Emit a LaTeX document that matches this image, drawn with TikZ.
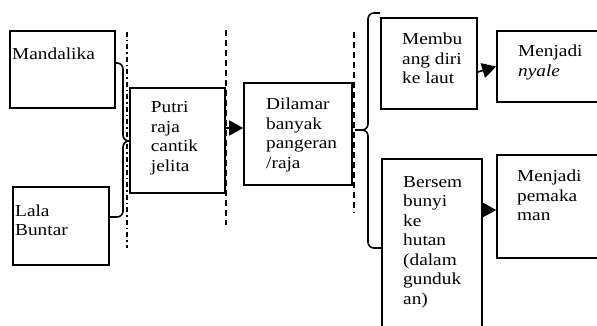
\documentclass[tikz,border=0pt]{standalone}
\usepackage{fontspec}
\setmainfont[FakeStretch=1.15]{Liberation Serif}
\usetikzlibrary{arrows.meta}
\tikzset{
  box/.style={draw, line width=1.6pt, inner sep=0pt},
  lbl/.style={anchor=base west, inner sep=0pt, font=\fontsize{16.8}{19.5}\selectfont},
  arr/.style={line width=1.6pt, -{Triangle[length=14pt,width=15pt]}},
  bracepath/.style={line width=1.6pt, rounded corners=6pt},
  sepdd/.style={line width=1.6pt, dash pattern=on 5pt off 3pt on 1.5pt off 3pt},
  sepd/.style={line width=1.6pt, dash pattern=on 6pt off 4pt},
}
\begin{document}
\begin{tikzpicture}[x=1pt, y=-1pt]
\useasboundingbox (0,0) rectangle (597,326);
\clip (0,0) rectangle (597,326);

% boxes
\node[box, minimum width=105pt, minimum height=77pt] (mand) at (62.5,69.5) {};
\node[box, minimum width=96pt, minimum height=78pt] (lala) at (61,226) {};
\node[box, minimum width=95pt, minimum height=105pt] (putri) at (177.5,140.5) {};
\node[box, minimum width=108pt, minimum height=102pt] (dilamar) at (298,134) {};
\node[box, minimum width=96pt, minimum height=91pt] (membuang) at (429,63.5) {};
\node[box, minimum width=118pt, minimum height=71pt] (nyale) at (556,66.5) {};
\node[box, minimum width=100pt, minimum height=181pt] (bersem) at (432,249.5) {};
\node[box, minimum width=118pt, minimum height=103pt] (pemak) at (556,206.5) {};

% texts
\node[lbl] (tmand) at (12,60) {\parbox[t]{90pt}{Mandalika}};
\node[lbl] (tlala) at (15,216) {\parbox[t]{90pt}{Lala\\Buntar}};
\node[lbl] (tputri) at (150.7,113) {\parbox[t]{70pt}{Putri\\raja\\cantik\\jelita}};
\node[lbl] (tdilamar) at (266,110) {\parbox[t]{85pt}{Dilamar\\banyak\\pangeran\\/raja}};
\node[lbl] (tmembuang) at (402,45) {\parbox[t]{75pt}{Membu\\ang diri\\ke laut}};
\node[lbl] (tnyale) at (518,57) {\parbox[t]{75pt}{Menjadi\\\textit{nyale}}};
\node[lbl] (tbersem) at (403,187) {\parbox[t]{75pt}{Bersem\\bunyi\\ke\\hutan\\(dalam\\gunduk\\an)}};
\node[lbl] (tpemak) at (517,182) {\parbox[t]{75pt}{Menjadi\\pemaka\\man}};

% separators
\draw[sepdd] (127,32) -- (127,248);
\draw[sepd] (226,30) -- (226,225);
\draw[sepd] (354,32) -- (354,213);

% braces
\draw[bracepath] (mand.east |- 0,63) -| (123,141) -- (128.5,141);
\draw[bracepath] (128.5,141) -| (123,217) -- (lala.east |- 0,217);
\draw[bracepath] (380,13) -| (368,130) -- (355,130);
\draw[bracepath] (355,130) -| (368,248) -- (bersem.west |- 0,248);

% arrows
\draw[arr] ([yshift=12.5pt]putri.east) -- ([yshift=6pt]dilamar.west);
\draw[arr] ([yshift=-8.5pt]membuang.east) -- (nyale.west);
\coordinate (pm) at ([yshift=-3.5pt]pemak.west);
\draw[arr] (bersem.east |- pm) -- (pm);
\end{tikzpicture}
\end{document}
